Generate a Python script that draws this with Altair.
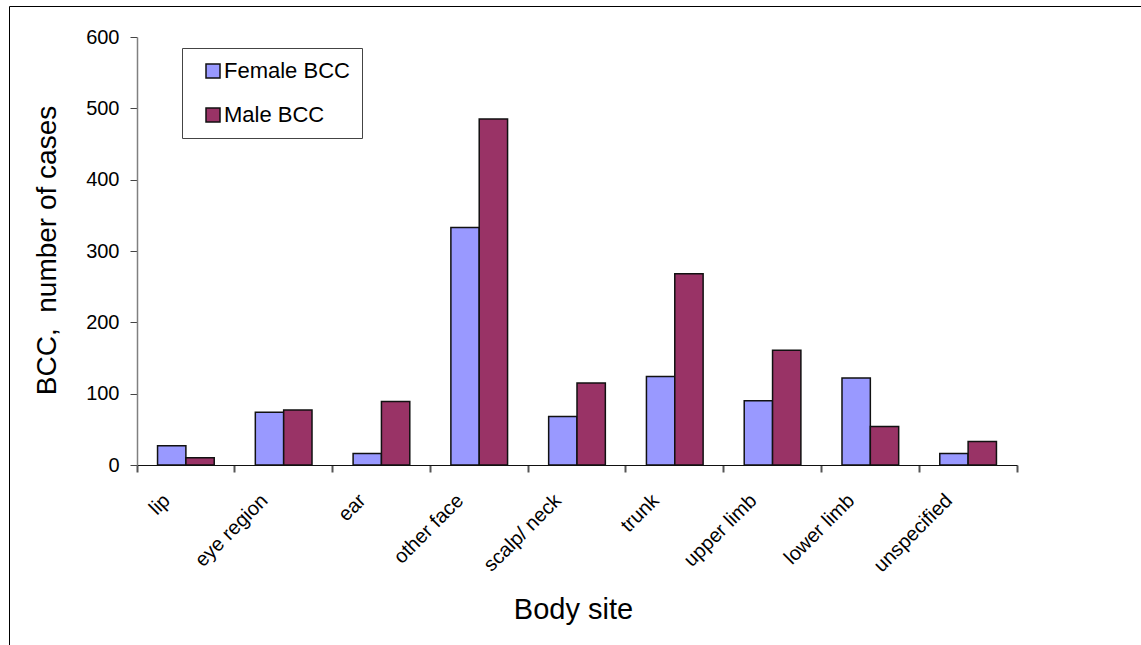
import altair as alt
import pandas as pd

# Basal cell carcinoma cases by body site, split by sex
sites = ["lip", "eye region", "ear", "other face", "scalp/ neck",
         "trunk", "upper limb", "lower limb", "unspecified"]
female_bcc = [27, 74, 16, 333, 68, 124, 90, 122, 16]
male_bcc = [10, 77, 89, 485, 115, 268, 161, 54, 33]

series = ["Female BCC", "Male BCC"]
series_colors = ["#9999FF", "#993366"]
y_ticks = [0, 100, 200, 300, 400, 500, 600]

rows = []
for site, f, m in zip(sites, female_bcc, male_bcc):
    rows.append({"site": site, "sex": series[0], "cases": f})
    rows.append({"site": site, "sex": series[1], "cases": m})
df = pd.DataFrame(rows)

FONT = "Liberation Sans"

bars = alt.Chart(df).mark_bar(stroke="#111111", strokeWidth=1.5).encode(
    # full-width category bands so that the ticks fall on the band boundaries
    x=alt.X(
        "site:N",
        sort=sites,
        scale=alt.Scale(paddingInner=0, paddingOuter=0),
        axis=alt.Axis(
            title="Body site",
            titleFont=FONT,
            titleFontSize=29,
            titleFontWeight="normal",
            titleColor="#000000",
            titleX=436,
            titleY=153,
            titleAlign="center",
            titleBaseline="alphabetic",
            labelFont=FONT,
            labelFontSize=20,
            labelColor="#000000",
            labelAngle=315,
            labelAlign="right",
            labelBaseline="top",
            labelPadding=18,
            labelOffset=-26,
            ticks=True,
            bandPosition=1,
            tickExtra=True,
            tickSize=7,
            tickWidth=2,
            tickColor="#555555",
            domainColor="#111111",
            domainWidth=1,
            grid=False,
        ),
    ),
    # the pair of bars sits in the middle of each band
    xOffset=alt.XOffset("sex:N", sort=series,
                        scale=alt.Scale(paddingInner=0, paddingOuter=0.725)),
    y=alt.Y(
        "cases:Q",
        scale=alt.Scale(domain=[0, 600], nice=False),
        axis=alt.Axis(
            values=y_ticks,
            title="BCC,\u00a0 number of cases",
            titleFont=FONT,
            titleFontSize=28,
            titleFontWeight="normal",
            titleColor="#000000",
            titleAngle=270,
            titleX=-82,
            titleY=213,
            titleAlign="center",
            titleBaseline="alphabetic",
            labelFont=FONT,
            labelFontSize=20,
            labelColor="#000000",
            labelPadding=11,
            tickSize=7,
            tickColor="#444444",
            domainColor="#808080",
            domainWidth=1.5,
            grid=False,
        ),
    ),
    color=alt.Color(
        "sex:N",
        sort=series,
        scale=alt.Scale(domain=series, range=series_colors),
        legend=alt.Legend(
            title=None,
            orient="none",
            legendX=45,
            legendY=11,
            direction="vertical",
            labelFont=FONT,
            labelFontSize=22,
            labelColor="#000000",
            labelOffset=0,
            symbolType="square",
            symbolSize=196,
            symbolStrokeColor="#111111",
            symbolStrokeWidth=1.5,
            symbolOffset=8,
            rowPadding=22,
            padding=12,
            strokeColor="#444444",
            fillColor="#ffffff",
        ),
    ),
)

# Outer chart frame (top and left edges)
frame = alt.Data(values=[{}])
frame_top = alt.Chart(frame).mark_rule(color="#000000", strokeWidth=1).encode(
    x=alt.value(-127.5), x2=alt.value(1010), y=alt.value(-30.5)
)
frame_left = alt.Chart(frame).mark_rule(color="#000000", strokeWidth=1).encode(
    x=alt.value(-127.5), y=alt.value(-30.5), y2=alt.value(615)
)

chart = alt.layer(bars, frame_top, frame_left).properties(
    width=880,
    height=428,
    autosize=alt.AutoSizeParams(type="none"),
    padding={"left": 137, "top": 37, "right": 124, "bottom": 180},
    background="#ffffff",
).configure_view(strokeWidth=0)

chart.save("out.html", embed_options={"renderer": "svg", "actions": False})
